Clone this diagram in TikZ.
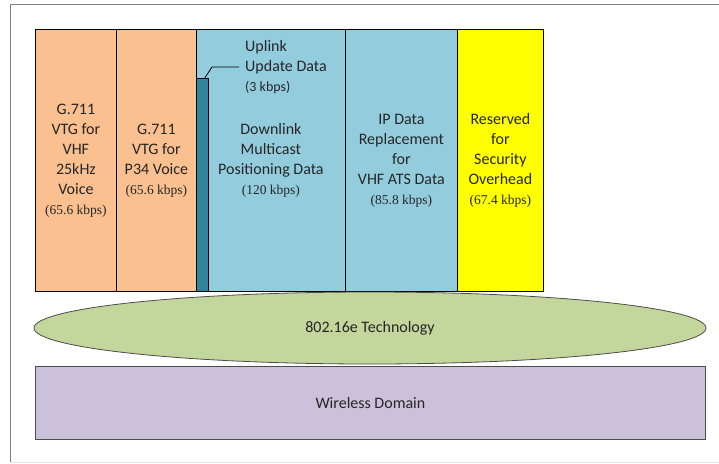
\documentclass[tikz,border=0pt]{standalone}
\usepackage{fontspec}
\setmainfont{Carlito}
\newfontfamily\tnr{Liberation Serif}
\usetikzlibrary{shapes.geometric}
\definecolor{peach}{HTML}{FAC090}
\definecolor{lblue}{HTML}{93CDDD}
\definecolor{tealbar}{HTML}{31849B}
\definecolor{yel}{HTML}{FFFF00}
\definecolor{sage}{HTML}{C3D69B}
\definecolor{lilac}{HTML}{CCC1DA}
\definecolor{txt}{HTML}{262626}
\newcommand{\kb}[1]{{\tnr\fontsize{13.5}{20}\selectfont #1}}
\begin{document}
\begin{tikzpicture}[x=1pt,y=-1pt,
  lbl/.style={text=txt, font=\fontsize{16}{20}\selectfont},
  col/.style={lbl, draw=black, line width=0.8pt, minimum height=262pt, inner sep=0pt,
              anchor=north west, align=center},
  layer/.style={lbl, draw=black!70, line width=0.8pt, inner sep=0pt}
  ]
\useasboundingbox (0,0) rectangle (719,463);
% frame
\draw[gray!20, line width=1pt] (10,462) -- (730,462);
\draw[gray, line width=1pt] (730,4) -- (10,4) -- (10,462);
% columns
\node[col, fill=peach, minimum width=81pt] (c1) at (35,29)
  {G.711\\VTG for\\VHF\\25kHz\\Voice\\\kb{(65.6 kbps)}};
\node[col, fill=peach, minimum width=80pt] (c2) at (116,29)
  {G.711\\VTG for\\P34 Voice\\\kb{(65.6 kbps)}};
\node[col, fill=lblue, minimum width=149pt] (c3) at (196,29)
  {Downlink\\Multicast\\Positioning Data\\\kb{(120 kbps)}};
\node[col, fill=lblue, minimum width=112pt] (c4) at (345,29)
  {IP Data\\Replacement\\for\\VHF ATS Data\\\kb{(85.8 kbps)}};
\node[col, fill=yel, minimum width=86pt] (c5) at (457,29)
  {Reserved\\for\\Security\\Overhead\\\kb{(67.4 kbps)}};
% uplink bar
\node[draw=black, line width=0.8pt, fill=tealbar, minimum width=12pt, minimum height=213pt,
      inner sep=0pt, anchor=north west] (bar) at (196,78) {};
\node[lbl, align=left, inner sep=0pt, anchor=north west] (up) at (245,40)
  {Uplink\\Update Data\\{\fontsize{14}{20}\selectfont (3 kbps)}};
\coordinate (ce) at (239,67);
\draw[black, line width=0.8pt] ([xshift=-4pt]bar.north east) -- (212,67) -- (ce);
% technology ellipse
\node[layer, ellipse, fill=sage, minimum width=672pt, minimum height=72pt] (tech) at (370,328)
  {802.16e Technology};
% wireless domain
\node[layer, fill=lilac, minimum width=670pt, minimum height=73pt, anchor=north west] (wd) at (35,366)
  {Wireless Domain};
\end{tikzpicture}
\end{document}
